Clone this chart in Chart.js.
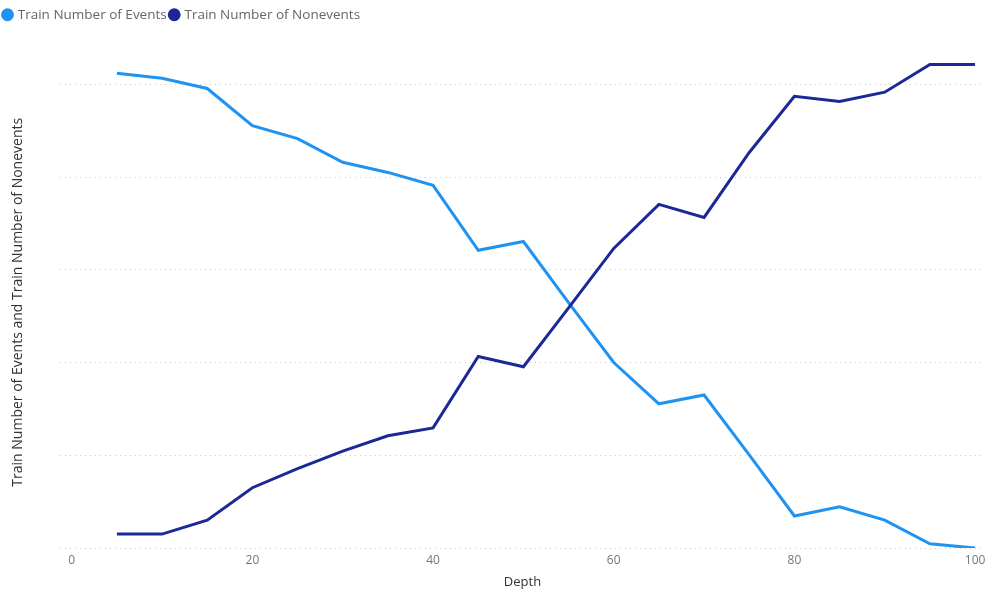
<!DOCTYPE html>
<html>
<head>
<meta charset="utf-8">
<script src="https://cdn.jsdelivr.net/npm/chart.js@4"></script>
<style>
  html, body { margin: 0; padding: 0; background: #ffffff; }
  #wrap { width: 985px; height: 594px; }
</style>
</head>
<body>
<div id="wrap"><canvas id="c" width="985" height="594"></canvas></div>
<script>
// Depth (percent of training set) and counts per depth bucket
const depth = [5, 10, 15, 20, 25, 30, 35, 40, 45, 50, 55, 60, 65, 70, 75, 80, 85, 90, 95, 100];
const trainEvents = [102.4, 101.3, 99.1, 91.1, 88.3, 83.2, 81.0, 78.2, 64.2, 66.1, 52.9, 40.0, 31.1, 33.0, 20.1, 6.9, 8.9, 6.0, 0.9, 0];
const trainNonevents = [3.0, 3.0, 6.0, 13.0, 17.1, 20.9, 24.2, 25.9, 41.3, 39.1, 51.8, 64.6, 74.1, 71.3, 85.3, 97.4, 96.3, 98.3, 104.3, 104.3];
const xTicks = [0, 20, 40, 60, 80, 100];
const yGrid = [0, 20, 40, 60, 80, 100];

const FONT = "'Open Sans', 'Noto Sans', sans-serif";

// Leaves extra room between the legend row and the plot area
const legendGap = {
  id: 'legendGap',
  beforeInit(chart) {
    const fit = chart.legend.fit;
    chart.legend.fit = function () {
      fit.call(this);
      this.height += 25;
    };
  }
};

new Chart(document.getElementById('c'), {
  type: 'line',
  data: {
    datasets: [
      {
        label: 'Train Number of Events',
        data: depth.map((d, i) => ({ x: d, y: trainEvents[i] })),
        borderColor: '#1f93f2',
        backgroundColor: '#1f93f2',
        borderWidth: 3,
        pointRadius: 0,
        tension: 0,
        order: 1
      },
      {
        label: 'Train Number of Nonevents',
        data: depth.map((d, i) => ({ x: d, y: trainNonevents[i] })),
        borderColor: '#1c2896',
        backgroundColor: '#1c2896',
        borderWidth: 3,
        pointRadius: 0,
        tension: 0,
        order: 0
      }
    ]
  },
  plugins: [legendGap],
  options: {
    responsive: false,
    animation: false,
    layout: { padding: { left: 0, right: 0, top: 4, bottom: 4 } },
    plugins: {
      tooltip: { enabled: false },
      legend: {
        position: 'top',
        align: 'start',
        labels: {
          usePointStyle: true,
          pointStyle: 'circle',
          boxWidth: 7,
          boxHeight: 7,
          padding: 4,
          color: '#666666',
          font: { family: FONT, size: 13.5 },
          sort: (a, b) => a.datasetIndex - b.datasetIndex
        }
      }
    },
    scales: {
      x: {
        type: 'linear',
        min: -1.3,
        max: 101.1,
        afterBuildTicks: (s) => { s.ticks = xTicks.map(v => ({ value: v })); },
        afterFit: (s) => { s.paddingRight = 0; s.paddingLeft = 0; },
        grid: { display: false, drawTicks: false },
        border: { display: false },
        ticks: { color: '#777777', font: { family: FONT, size: 12 }, padding: 5, maxRotation: 0 },
        title: { display: true, text: 'Depth', color: '#333333', font: { family: FONT, size: 13 }, padding: { top: 2, bottom: 0 } }
      },
      y: {
        type: 'linear',
        min: 0,
        max: 106,
        afterBuildTicks: (s) => { s.ticks = yGrid.map(v => ({ value: v })); },
        afterFit: (s) => { s.width = 60; },
        grid: { color: '#c8c8c8', lineWidth: 1, drawTicks: false },
        border: { display: false, dash: [1, 4] },
        ticks: { display: false },
        title: { display: true, text: 'Train Number of Events and Train Number of Nonevents', color: '#333333', font: { family: FONT, size: 14 }, padding: { top: 10, bottom: 0 } }
      }
    }
  }
});
</script>
</body>
</html>
